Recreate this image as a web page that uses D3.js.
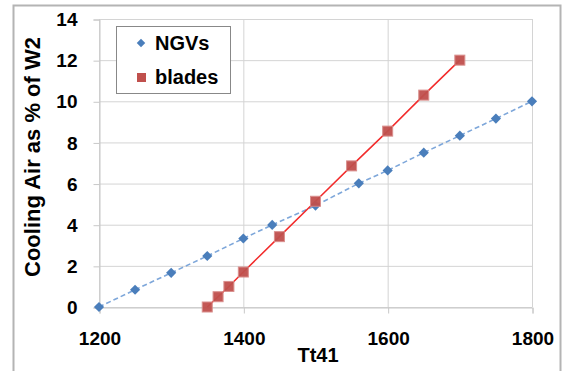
<!DOCTYPE html>
<html>
<head>
<meta charset="utf-8">
<script src="https://cdn.jsdelivr.net/npm/d3@7"></script>
<style>
body { margin:0; background:#fff; }
text { font-family: "Liberation Sans", Arial, sans-serif; font-weight:bold; fill:#000; }
</style>
</head>
<body>
<svg id="chart" width="566" height="371"></svg>
<script>
// data
var ngvT = [1200, 1250, 1300, 1350, 1400, 1440, 1500, 1560, 1600, 1650, 1700, 1750, 1800];
var ngvPct = [0, 0.84, 1.66, 2.48, 3.33, 3.99, 4.93, 6.01, 6.64, 7.5, 8.33, 9.16, 10];
var bladeT = [1350, 1365, 1380, 1400, 1450, 1500, 1550, 1600, 1650, 1700];
var bladePct = [0, 0.5, 1.0, 1.7, 3.42, 5.14, 6.86, 8.55, 10.3, 12.0];
var xTicks = [1200, 1400, 1600, 1800];
var yTicks = [0, 2, 4, 6, 8, 10, 12, 14];
var legendNames = ["NGVs", "blades"];

var svg = d3.select("svg#chart");
var x = d3.scaleLinear().domain([1200, 1800]).range([99, 532]);
var y = d3.scaleLinear().domain([0, 14]).range([307, 19]);

// outer frame
svg.append("rect").attr("x", 13.5).attr("y", 5.5).attr("width", 547).attr("height", 380)
    .attr("fill", "none").attr("stroke", "#b4b4b4").attr("stroke-width", 2);

// grid
svg.append("g").selectAll("line").data(yTicks).enter().append("line")
    .attr("x1", x(1200)).attr("x2", x(1800))
    .attr("y1", function(d){return y(d) + 0.5}).attr("y2", function(d){return y(d) + 0.5})
    .attr("stroke", "#d4d4d4");
svg.append("g").selectAll("line").data(xTicks).enter().append("line")
    .attr("x1", function(d){return x(d) + 0.5}).attr("x2", function(d){return x(d) + 0.5})
    .attr("y1", y(14)).attr("y2", y(0))
    .attr("stroke", "#d4d4d4");

// axes
var yAxis = svg.append("g").attr("transform", "translate(" + (x(1200) + 0.5) + ",0.5)")
    .call(d3.axisLeft(y).tickValues(yTicks).tickSize(6).tickPadding(16).tickFormat(d3.format("d")));
var xAxis = svg.append("g").attr("transform", "translate(0.5," + (y(0) + 0.5) + ")")
    .call(d3.axisBottom(x).tickValues(xTicks).tickSize(6).tickPadding(18).tickFormat(d3.format("d")));
[yAxis, xAxis].forEach(function(a){
    a.select(".domain").attr("stroke", "#c8c8c8");
    a.selectAll(".tick line").attr("stroke", "#c8c8c8");
    a.selectAll(".tick text").attr("font-size", 19).attr("font-family", null).attr("fill", "#000");
});

// axis titles
svg.append("text").attr("x", 318).attr("y", 362).attr("text-anchor", "middle")
    .attr("font-size", 20).text("Tt41");
svg.append("text").attr("transform", "translate(40,157) rotate(-90)").attr("text-anchor", "middle")
    .attr("font-size", 22).text("Cooling Air as % of W2");

var ngvData = ngvT.map(function(t, i){return [t, ngvPct[i]]});
var bladeData = bladeT.map(function(t, i){return [t, bladePct[i]]});
var line = d3.line().x(function(d){return x(d[0])}).y(function(d){return y(d[1])});

svg.append("path").datum(ngvData).attr("d", line).attr("fill", "none")
    .attr("stroke", "#7ea7da").attr("stroke-width", 1.6).attr("stroke-dasharray", "5,3");
svg.append("path").datum(bladeData).attr("d", line).attr("fill", "none")
    .attr("stroke", "#f22b2b").attr("stroke-width", 1.5);

// diamonds = rotated squares
svg.append("g").selectAll("rect").data(ngvData).enter().append("rect")
    .attr("transform", function(d){return "translate(" + x(d[0]) + "," + y(d[1]) + ") rotate(45)"})
    .attr("x", -3.6).attr("y", -3.6).attr("width", 7.2).attr("height", 7.2)
    .attr("fill", "#4a7ebb");

svg.append("g").selectAll("rect").data(bladeData).enter().append("rect")
    .attr("x", function(d){return x(d[0]) - 5}).attr("y", function(d){return y(d[1]) - 5})
    .attr("width", 10).attr("height", 10)
    .attr("fill", "#c0504d").attr("stroke", "#d88a88").attr("stroke-width", 1).attr("opacity", 0.95);

// legend
var leg = svg.append("g");
leg.append("rect").attr("x", 116.5).attr("y", 26.5).attr("width", 114).attr("height", 67)
    .attr("fill", "#fff").attr("stroke", "#888").attr("stroke-width", 1);
leg.append("rect").attr("transform", "translate(141,43) rotate(45)")
    .attr("x", -3).attr("y", -3).attr("width", 6).attr("height", 6).attr("fill", "#4a7ebb");
leg.append("rect").attr("x", 137).attr("y", 73).attr("width", 9).attr("height", 9).attr("fill", "#c0504d");
leg.selectAll("text").data(legendNames).enter().append("text")
    .attr("x", 155).attr("y", function(d, i){return 50 + i * 34})
    .attr("font-size", 20).text(function(d){return d});
</script>
</body>
</html>
